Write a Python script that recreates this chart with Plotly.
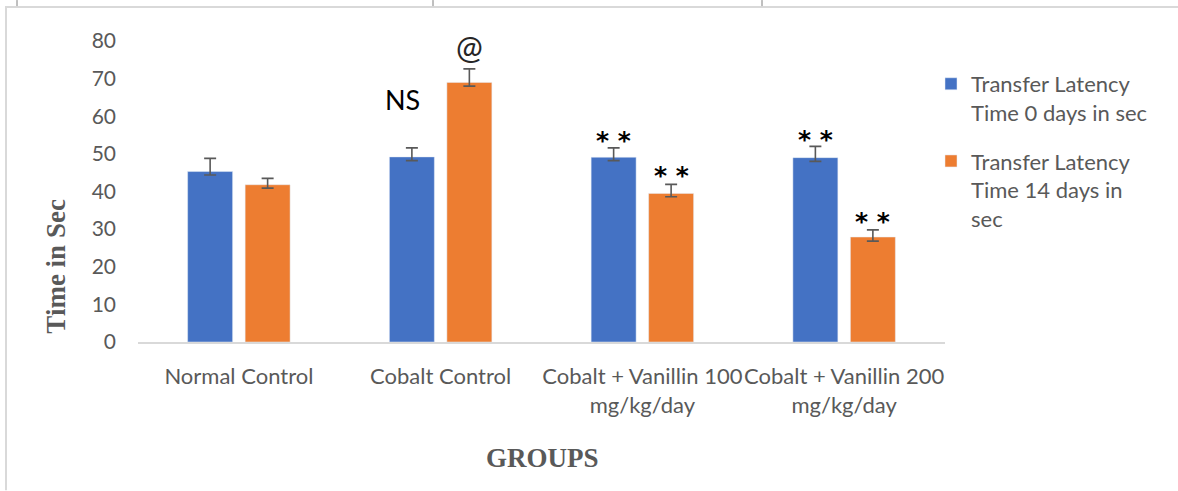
import plotly.graph_objects as go

# ---- data ----
categories = ["Normal Control", "Cobalt Control",
              "Cobalt + Vanillin 100<br>mg/kg/day", "Cobalt + Vanillin 200<br>mg/kg/day"]
series_names = ["Transfer Latency<br>Time 0 days in sec", "Transfer Latency<br>Time 14 days in<br>sec"]
day0 = [45.3, 49.2, 49.1, 49.0]
day0_err_plus = [3.5, 2.4, 2.5, 3.0]
day0_err_minus = [0.9, 1.0, 0.9, 1.0]
day14 = [41.8, 69.0, 39.5, 27.9]
day14_err_plus = [1.7, 3.6, 2.4, 1.9]
day14_err_minus = [0.9, 1.0, 0.9, 1.1]

# significance marks: text, category index, offset from category centre, y value
sig_text = ["NS", "@", "* *", "* *", "* *", "* *"]
sig_cat = [1, 1, 2, 2, 3, 3]
sig_offset = [-0.19, 0.1425, -0.1425, 0.1425, -0.1425, 0.1425]
sig_y = [64.5, 78.5, 54.4, 45.1, 54.7, 32.8]

y_ticks = [0, 10, 20, 30, 40, 50, 60, 70, 80]

# ---- layout constants (pixels) ----
W, H = 1178, 491
L, R, T, B = 138, 945, 41, 342.5

def px(x):
    return (x - L) / (R - L)

def py(y):
    return (B - y) / (B - T)

BLUE = "#4472C4"
ORANGE = "#ED7D31"
GRAY = "#595959"
SANS = "Lato, Calibri, sans-serif"
SERIF = "Liberation Serif, Times New Roman, serif"

fig = go.Figure()
fig.add_trace(go.Bar(
    x=categories, y=day0, name=series_names[0], marker_color=BLUE,
    legendgroup="a",
    error_y=dict(type="data", symmetric=False, array=day0_err_plus,
                 arrayminus=day0_err_minus, color=GRAY, thickness=1.6, width=6)))
fig.add_trace(go.Bar(
    x=categories, y=day14, name=series_names[1], marker_color=ORANGE,
    legendgroup="b",
    error_y=dict(type="data", symmetric=False, array=day14_err_plus,
                 arrayminus=day14_err_minus, color=GRAY, thickness=1.6, width=6)))

annotations = []
for t, c, o, yv in zip(sig_text, sig_cat, sig_offset, sig_y):
    is_star = "*" in t
    if is_star:
        font = dict(family="DejaVu Sans, sans-serif", size=25, color="#000000")
        txt = "<b>" + t + "</b>"
    elif t == "@":
        font = dict(family=SANS, size=32, color="#262626")
        txt = t
    else:
        font = dict(family=SANS, size=27, color="#000000")
        txt = t
    annotations.append(dict(
        x=c + o, y=yv, xref="x", yref="y", text=txt, showarrow=False,
        xanchor="center", yanchor="middle",
        yshift=-3 if is_star else 0, font=font))

annotations.append(dict(
    x=px(542), y=py(459), xref="paper", yref="paper", text="<b>GROUPS</b>",
    showarrow=False, xanchor="center", yanchor="middle",
    font=dict(family=SERIF, size=27, color=GRAY)))
annotations.append(dict(
    x=px(56), y=py(267), xref="paper", yref="paper", text="<b>Time in Sec</b>",
    textangle=-90, showarrow=False, xanchor="center", yanchor="middle",
    font=dict(family=SERIF, size=27, color=GRAY)))

shapes = [
    dict(type="line", xref="paper", yref="paper", x0=px(5), x1=px(W), y0=py(7), y1=py(7),
         line=dict(color="#d9d9d9", width=2)),
    dict(type="line", xref="paper", yref="paper", x0=px(6), x1=px(6), y0=py(7), y1=py(H),
         line=dict(color="#d9d9d9", width=2)),
]
for xv in [17, 433, 762]:
    shapes.append(dict(type="line", xref="paper", yref="paper", x0=px(xv), x1=px(xv),
                       y0=py(0), y1=py(6), line=dict(color="#808080", width=1)))

fig.update_layout(
    width=W, height=H,
    margin=dict(l=L, r=W - R, t=T, b=H - B, pad=0),
    paper_bgcolor="white", plot_bgcolor="white",
    barmode="group", bargap=0.43, bargroupgap=0.218,
    font=dict(family=SANS, size=22, color=GRAY),
    showlegend=True,
    legend=dict(x=px(931), y=py(63), xanchor="left", yanchor="top",
                font=dict(family=SANS, size=22, color=GRAY),
                tracegroupgap=17, valign="top", bgcolor="rgba(0,0,0,0)"),
    annotations=annotations,
    shapes=shapes,
)
fig.update_xaxes(showline=True, linecolor="#d9d9d9", linewidth=2, showgrid=False,
                 ticks="", tickangle=0, ticklabelstandoff=14,
                 tickfont=dict(family=SANS, size=22, color=GRAY), fixedrange=True)
fig.update_yaxes(range=[0, 80], tickvals=y_ticks, showgrid=False, zeroline=False,
                 showline=False, ticks="", ticklabelstandoff=21,
                 tickfont=dict(family=SANS, size=21, color=GRAY), fixedrange=True)

fig.write_html("out.html", config={"displayModeBar": False},
               post_script="document.body.style.margin='0px';")
